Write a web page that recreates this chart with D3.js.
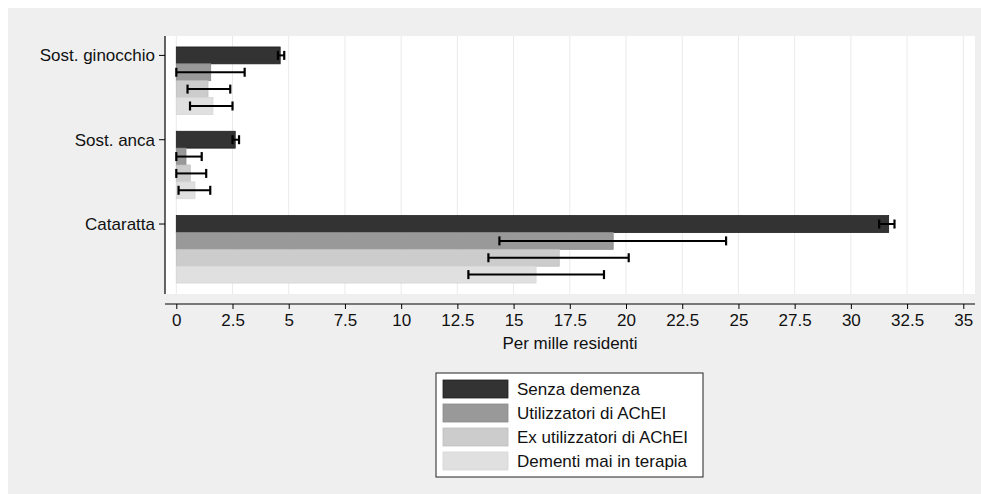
<!DOCTYPE html>
<html>
<head>
<meta charset="utf-8">
<script src="https://cdn.jsdelivr.net/npm/d3@7"></script>
<style>
  body { margin: 0; background: #ffffff; }
  svg text { font-family: "Liberation Sans", Arial, sans-serif; fill: #111; }
</style>
</head>
<body>
<svg id="chart" width="981" height="494"></svg>
<script>
// categorie e serie
const categories = ["Sost. ginocchio", "Sost. anca", "Cataratta"];
const seriesNames = ["Senza demenza", "Utilizzatori di AChEI", "Ex utilizzatori di AChEI", "Dementi mai in terapia"];

// valori (per mille residenti) e intervalli di confidenza
const senzaDemenza = [4.62, 2.62, 31.68];
const senzaLo = [4.52, 2.50, 31.26];
const senzaHi = [4.80, 2.79, 31.94];

const utilizzatori = [1.53, 0.43, 19.43];
const utilLo = [0.00, 0.00, 14.37];
const utilHi = [3.04, 1.13, 24.45];

const exUtilizzatori = [1.41, 0.62, 17.03];
const exLo = [0.50, 0.00, 13.88];
const exHi = [2.40, 1.33, 20.12];

const maiTerapia = [1.63, 0.83, 16.00];
const maiLo = [0.61, 0.10, 12.99];
const maiHi = [2.50, 1.51, 19.02];

const xTicks = [0, 2.5, 5, 7.5, 10, 12.5, 15, 17.5, 20, 22.5, 25, 27.5, 30, 32.5, 35];

const seriesVals = [senzaDemenza, utilizzatori, exUtilizzatori, maiTerapia];
const seriesLo = [senzaLo, utilLo, exLo, maiLo];
const seriesHi = [senzaHi, utilHi, exHi, maiHi];
const fills = ["#333333", "#999999", "#cccccc", "#e0e0e0"];
const strokes = ["#1e1e1e", "#8a8a8a", "#bebebe", "#d6d6d6"];

const svg = d3.select("#chart");
const fontSize = 17;

// sfondo
svg.append("rect").attr("x", 8).attr("y", 8).attr("width", 973).attr("height", 486).attr("fill", "#efefef");

const plot = {left: 165, right: 975, top: 36, bottom: 294};
svg.append("rect").attr("x", plot.left).attr("y", plot.top)
    .attr("width", plot.right - plot.left).attr("height", plot.bottom - plot.top).attr("fill", "#ffffff");

const x = d3.scaleLinear().domain([0, 35]).range([176.3, 963.3]);
const yGroup = d3.scaleBand().domain(categories).range([plot.top, plot.bottom]).paddingInner(0.2).paddingOuter(0.13);
const ySeries = d3.scaleBand().domain(seriesNames).range([0, yGroup.bandwidth()]).padding(0);

// griglia
svg.append("g").selectAll("line").data(xTicks).join("line")
    .attr("x1", d => x(d)).attr("x2", d => x(d))
    .attr("y1", plot.top).attr("y2", plot.bottom)
    .attr("stroke", "#eaeaea").attr("stroke-width", 1);

// dati in righe
const rows = [];
categories.forEach((c, ci) => {
    seriesNames.forEach((s, si) => {
        rows.push({cat: c, ser: s, si: si, v: seriesVals[si][ci], lo: seriesLo[si][ci], hi: seriesHi[si][ci]});
    });
});

svg.append("g").selectAll("rect").data(rows).join("rect")
    .attr("x", x(0))
    .attr("y", d => yGroup(d.cat) + ySeries(d.ser))
    .attr("width", d => x(d.v) - x(0))
    .attr("height", ySeries.bandwidth())
    .attr("fill", d => fills[d.si])
    .attr("stroke", d => strokes[d.si])
    .attr("stroke-width", 0.8);

// barre di errore
const eb = svg.append("g").attr("stroke", "#000");
rows.forEach(d => {
    const yc = yGroup(d.cat) + ySeries(d.ser) + ySeries.bandwidth() / 2;
    eb.append("line").attr("x1", x(d.lo)).attr("x2", x(d.hi)).attr("y1", yc).attr("y2", yc).attr("stroke-width", 2);
    [d.lo, d.hi].forEach(v => {
        eb.append("line").attr("x1", x(v)).attr("x2", x(v)).attr("y1", yc - 4.5).attr("y2", yc + 4.5).attr("stroke-width", 2.2);
    });
});

// asse y
const yAxis = svg.append("g");
yAxis.append("line").attr("x1", plot.left).attr("x2", plot.left).attr("y1", plot.top).attr("y2", plot.bottom)
    .attr("stroke", "#000").attr("stroke-width", 1.2);
categories.forEach(c => {
    const yc = yGroup(c) + ySeries.bandwidth() / 2;
    yAxis.append("line").attr("x1", plot.left - 6).attr("x2", plot.left).attr("y1", yc).attr("y2", yc)
        .attr("stroke", "#000").attr("stroke-width", 1);
    yAxis.append("text").attr("x", plot.left - 10).attr("y", yc).attr("dy", "0.35em")
        .attr("text-anchor", "end").style("font-size", fontSize + "px").text(c);
});

// asse x
const xAxisY = 304;
const gx = svg.append("g").attr("transform", `translate(0,${xAxisY})`)
    .call(d3.axisBottom(x).tickValues(xTicks).tickSize(5).tickSizeOuter(0).tickPadding(5).tickFormat(d => String(d)));
gx.select(".domain").remove();
gx.append("line").attr("x1", plot.left).attr("x2", plot.right).attr("y1", 0).attr("y2", 0)
    .attr("stroke", "#000").attr("stroke-width", 1.2);
gx.selectAll(".tick line").attr("stroke", "#000");
gx.selectAll(".tick text").style("font-size", fontSize + "px")
    .style("font-family", "'Liberation Sans', Arial, sans-serif").attr("fill", "#111");

svg.append("text").attr("x", (plot.left + plot.right) / 2).attr("y", 343).attr("dy", "0.35em")
    .attr("text-anchor", "middle").style("font-size", fontSize + "px").text("Per mille residenti");

// legenda
const legend = svg.append("g");
legend.append("rect").attr("x", 436).attr("y", 373).attr("width", 267).attr("height", 104)
    .attr("fill", "#ffffff").attr("stroke", "#222").attr("stroke-width", 1);
seriesNames.forEach((s, i) => {
    const yc = 389 + i * 24;
    legend.append("rect").attr("x", 443).attr("y", yc - 9).attr("width", 65).attr("height", 18)
        .attr("fill", fills[i]).attr("stroke", strokes[i]).attr("stroke-width", 0.8);
    legend.append("text").attr("x", 517).attr("y", yc).attr("dy", "0.35em")
        .style("font-size", fontSize + "px").text(s);
});
</script>
</body>
</html>
